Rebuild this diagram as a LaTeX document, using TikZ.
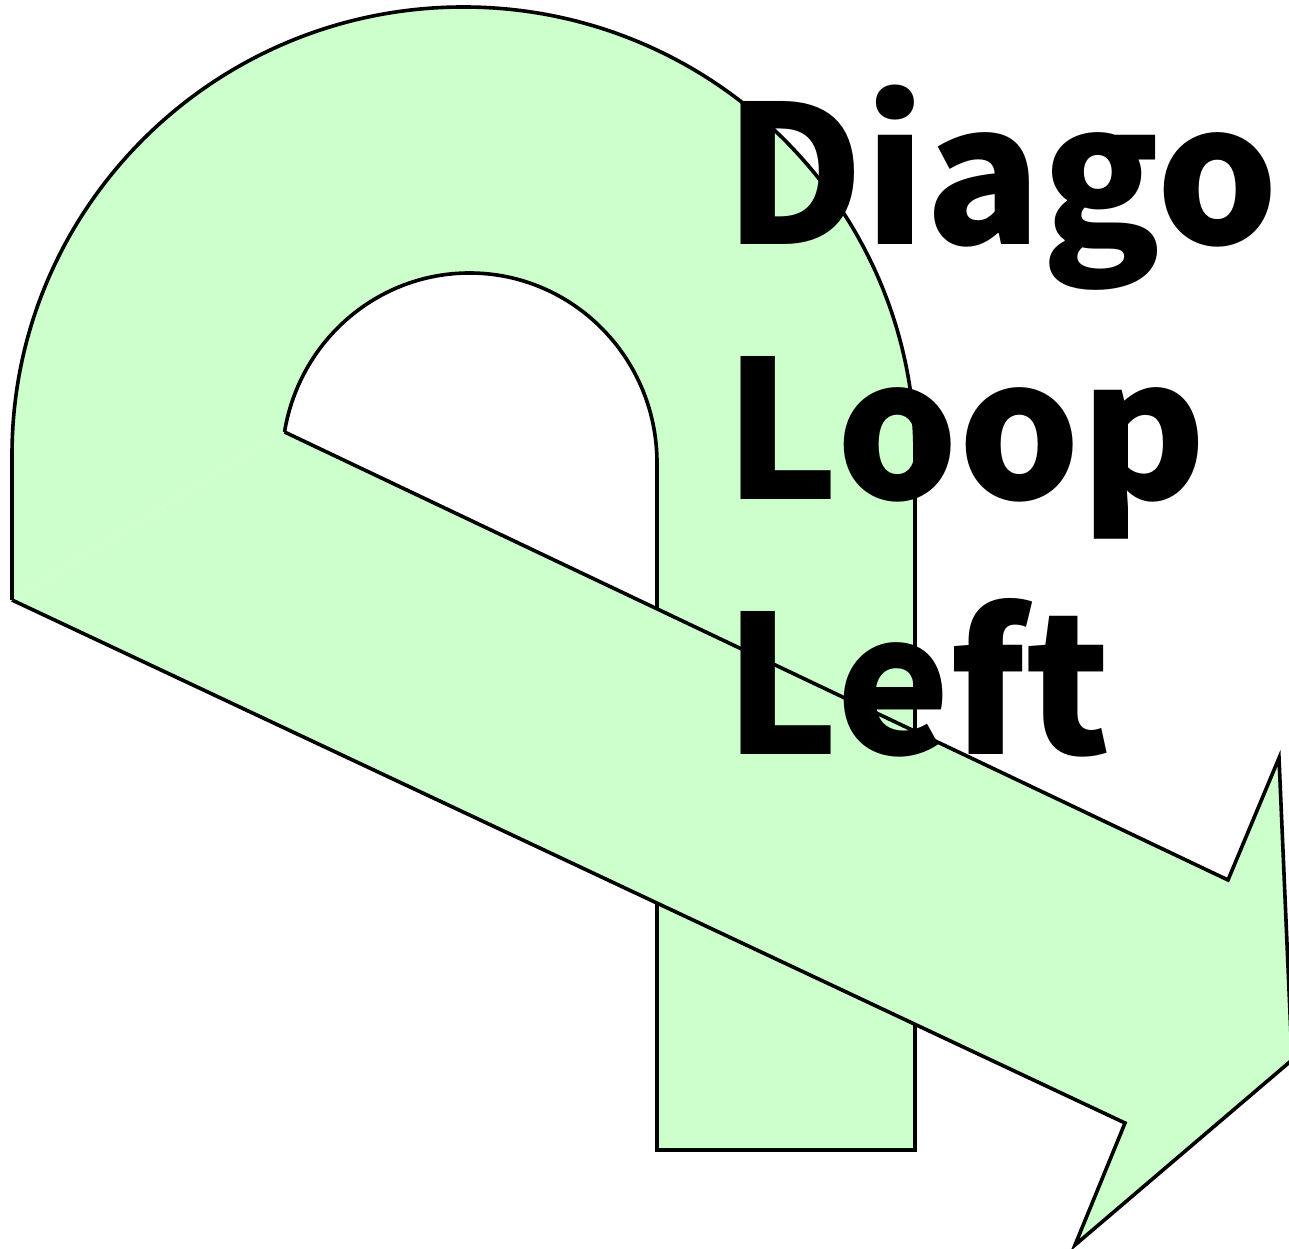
\documentclass[tikz,border=0pt]{standalone}
\usepackage{fontspec}
\newfontfamily\lblfont{Noto Sans CJK JP}
\definecolor{loopgreen}{HTML}{CCFFCC}
\tikzset{
  shapeline/.style={fill=loopgreen, draw=black, line width=3.6pt, line join=miter},
  bigtext/.style={inner sep=0pt, anchor=base west, font=\lblfont\bfseries\fontsize{192}{230}\selectfont}
}
\begin{document}
\begin{tikzpicture}[x=1pt,y=1pt]
\useasboundingbox (0,0) rectangle (1289,1248);
\clip (0,0) rectangle (1289,1248);
% coordinates
\coordinate (ol) at (12,648);
\coordinate (olt) at (12,793);
\coordinate (rlb) at (915,98);
\coordinate (llb) at (657,98);
\coordinate (ilt) at (657,785);
\coordinate (bt1) at (1228,368);
\coordinate (barbU) at (1279,490);
\coordinate (tip) at (1292,188);
\coordinate (barbL) at (1075,3);
\coordinate (bb1) at (1125,125);
% loop (arch and legs)
\path[shapeline] (ol) -- (olt)
  arc[start angle=180, end angle=0, x radius=451.5, y radius=448]
  -- (rlb) -- (llb) -- (ilt)
  arc[start angle=0, end angle=170.6, x radius=187.5, y radius=190]
  coordinate (ib);
% diagonal band with arrow head
\path[shapeline] (ib) -- (bt1) -- (barbU) -- (tip) -- (barbL) -- (bb1) -- (ol);
% text
\node[bigtext] (l1) at (724,1003) {Diago};
\node[bigtext] (l2) at (724,748) {Loop};
\node[bigtext] (l3) at (724,493) {Left};
\end{tikzpicture}
\end{document}
